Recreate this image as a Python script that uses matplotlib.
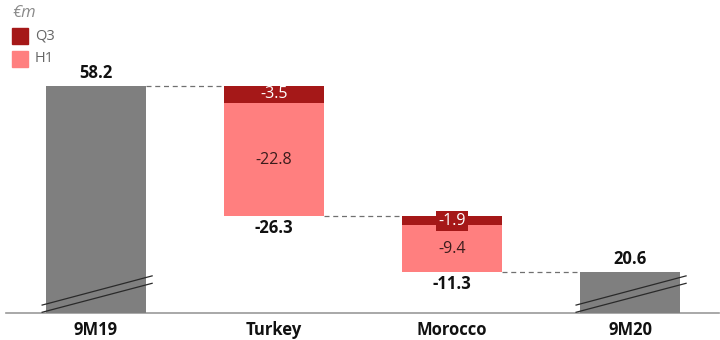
import matplotlib.pyplot as plt
from matplotlib.patches import Rectangle

plt.rcParams["font.family"] = ["Open Sans", "DejaVu Sans"]

# ---------------------------------------------------------------------------
# Data (EUR m)
# ---------------------------------------------------------------------------
categories = ["9M19", "Turkey", "Morocco", "9M20"]
start_total = 58.2
end_total = 20.6
h1_change = [-22.8, -9.4]          # Turkey, Morocco
q3_change = [-3.5, -1.9]
net_change = [-26.3, -11.3]

GREY = "#7f7f7f"
Q3_RED = "#a51818"
H1_PINK = "#ff7f7f"
TEXT_DARK = "#3b1c1c"

Y_MIN, Y_MAX = 12.3, 71.5   # broken axis: bottom of the totals is cut off
BAR_W = 0.56

fig = plt.figure(figsize=(7.2, 3.4), dpi=100)
ax = fig.add_axes([6 / 720, 27 / 340, 713 / 720, 293 / 340])
ax.set_xlim(-0.506, 3.5)
ax.set_ylim(Y_MIN, Y_MAX)
ax.axis("off")

# baseline
ax.plot([-0.506, 3.5], [Y_MIN, Y_MIN], color="#9a9a9a", lw=1.2, clip_on=False)

# totals
totals = [start_total, end_total]
for x, val in zip([0, 3], totals):
    ax.bar(x, val, width=BAR_W, color=GREY, zorder=2)
    ax.annotate(f"{val:.1f}", (x, val), xytext=(0, 3), textcoords="offset points",
                ha="center", va="bottom", fontsize=12, fontweight="bold", color="#111111")
    # axis-break marks
    for y0, y1 in [(13.9, 19.8), (12.45, 18.3)]:
        ax.plot([x - 0.303, x + 0.315], [y0, y1], color="#2a2a2a", lw=0.9, zorder=3)

# changes: Q3 on top, H1 below
level = start_total
for i, x in enumerate([1, 2]):
    q3_top = level
    q3_bot = level + q3_change[i]
    h1_bot = q3_bot + h1_change[i]
    ax.bar(x, q3_change[i], bottom=q3_top, width=BAR_W, color=Q3_RED, zorder=2)
    ax.bar(x, h1_change[i], bottom=q3_bot, width=BAR_W, color=H1_PINK, zorder=2)

    q3_mid = (q3_top + q3_bot) / 2
    if abs(q3_change[i]) > 3:
        ax.text(x, q3_mid, f"{q3_change[i]:.1f}", ha="center", va="center",
                fontsize=11.5, color="white", zorder=4)
    else:
        ax.text(x, q3_mid, f"{q3_change[i]:.1f}", ha="center", va="center",
                fontsize=11.5, color="white", zorder=4,
                bbox=dict(boxstyle="square,pad=0.12", fc=Q3_RED, ec="none"))
    ax.text(x, (q3_bot + h1_bot) / 2, f"{h1_change[i]:.1f}",
            ha="center", va="center", fontsize=11.5, color=TEXT_DARK, zorder=4)

    ax.annotate(f"{net_change[i]:.1f}", (x, h1_bot), xytext=(0, -2),
                textcoords="offset points", ha="center", va="top",
                fontsize=12, fontweight="bold", color="#111111")

    # dashed connector from previous bar
    ax.plot([x - 1 + BAR_W / 2, x - BAR_W / 2], [level, level],
            color="#707070", lw=0.9, ls=(0, (4, 3)), zorder=1)
    level = h1_bot

ax.plot([2 + BAR_W / 2, 3 - BAR_W / 2], [level, level],
        color="#707070", lw=0.9, ls=(0, (4, 3)), zorder=1)

# category labels
for x, name in enumerate(categories):
    ax.text(x, Y_MIN - 1.6, name, ha="center", va="top", fontsize=12,
            fontweight="bold", color="#111111")

# unit and legend
fig.text(12 / 720, 1 - 13 / 340, "€m", fontsize=12, style="italic",
         color="#8a8a8a", va="center")
for k, (lab, col) in enumerate([("Q3", Q3_RED), ("H1", H1_PINK)]):
    yc = 1 - (36 + 23 * k) / 340
    fig.patches.append(Rectangle((12 / 720, yc - 8 / 340), 16 / 720, 16 / 340,
                                 transform=fig.transFigure, color=col))
    fig.text(35 / 720, yc, lab, fontsize=10.5, color="#666666", va="center")

fig.savefig("out.png", dpi=100)
